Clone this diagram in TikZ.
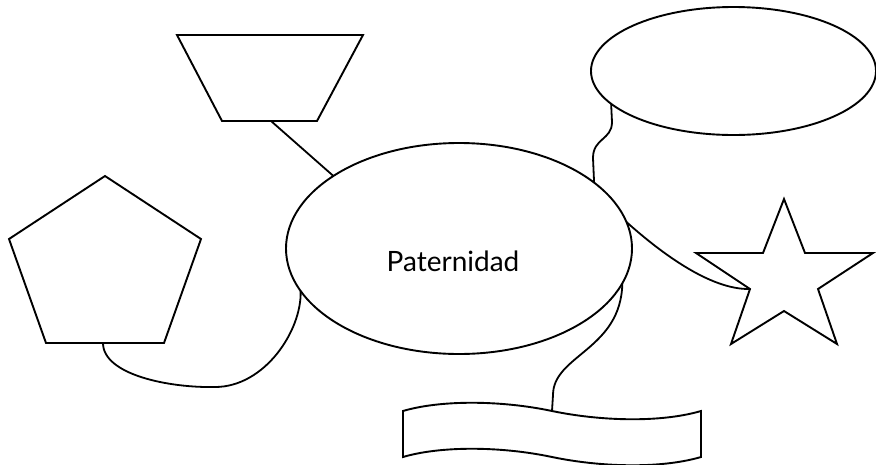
\documentclass[tikz,border=0pt]{standalone}
\usepackage{fontspec}
\setmainfont{Lato}
\usetikzlibrary{calc}
\usetikzlibrary{shapes.geometric}
\tikzset{
  outline/.style={line width=1.9pt, line join=miter},
  link/.style={line width=1.8pt},
  bubble/.style={ellipse, draw, outline, inner sep=0, outer sep=0}
}

\begin{document}
\begin{tikzpicture}[x=1pt, y=-1pt]
\useasboundingbox (0,0) rectangle (876,464);
% central bubble
\node [bubble, minimum width=346, minimum height=211] (pat) at (459,248.5) {};
\node [anchor=base, font=\fontsize{28}{32}\selectfont] (patlbl) at (453,271) {Paternidad};
% top right bubble
\node [bubble, minimum width=285, minimum height=128] (cloud) at (733.5,71) {};
% trapezium
\coordinate (T1) at (177,35);
\coordinate (T2) at (363,35);
\coordinate (T3) at (317,121);
\coordinate (T4) at (222,121);
\coordinate (Tb) at (271,121);
\draw[outline] (T1)--(T2)--(T3)--(T4)--cycle;
% pentagon
\coordinate (P1) at (105,176);
\coordinate (P2) at (201,239);
\coordinate (P3) at (164,343);
\coordinate (P4) at (46,343);
\coordinate (P5) at (9,239);
\coordinate (Pb) at (103,343);
\draw[outline] (P1)--(P2)--(P3)--(P4)--(P5)--cycle;
% star
\coordinate (S1) at (784,199);
\coordinate (S2) at (805,253);
\coordinate (S3) at (873,253);
\coordinate (S4) at (818,289);
\coordinate (S5) at (837,344);
\coordinate (S6) at (784,311);
\coordinate (S7) at (731,344);
\coordinate (S8) at (750,289);
\coordinate (S9) at (696,253);
\coordinate (S10) at (763,253);
\draw[outline] (S1)--(S2)--(S3)--(S4)--(S5)--(S6)--(S7)--(S8)--(S9)--(S10)--cycle;
% banner
\coordinate (B1) at (403,411);
\coordinate (B2) at (701,411);
\coordinate (B3) at (701,457);
\coordinate (B4) at (403,457);
\coordinate (Bt) at (552,411);
\draw[outline] (B1) .. controls (440,400) and (500,400) .. (Bt)
  .. controls (600,421) and (660,423) .. (B2) -- (B3)
  .. controls (660,469) and (600,467) .. (552,457)
  .. controls (500,446) and (440,446) .. (B4) -- cycle;
% links
\draw[link] (Tb) -- (pat.150);
\draw[link] (cloud.195) -- (612,122) .. controls (612,140) and (593,138) .. (593,158) -- (pat.26);
\draw[link] (pat.9) .. controls (660,252) and (710,290) .. (S8);
\draw[link] (pat.348) .. controls (621,350) and (553,355) .. (553,395) -- (Bt);
\draw[link] (Pb) .. controls (103,375) and (170,388) .. (215,387)
  .. controls (265,387) and (302,330) .. (pat.195);
\end{tikzpicture}
\end{document}
